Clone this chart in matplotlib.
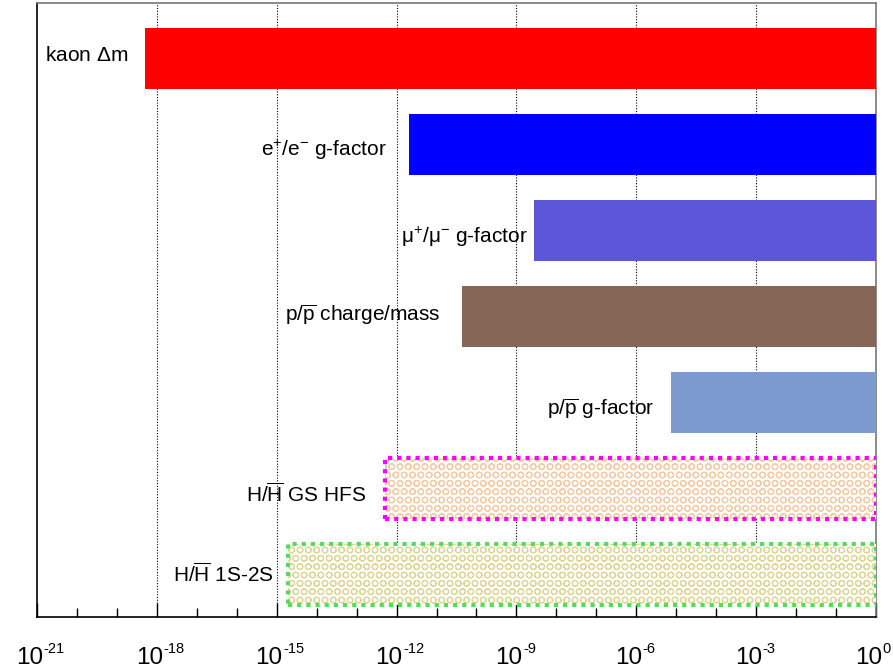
import numpy as np
import matplotlib
matplotlib.use('Agg')
import matplotlib.pyplot as plt
from matplotlib.ticker import FixedLocator, NullFormatter

plt.rcParams['font.family'] = ['Liberation Sans', 'DejaVu Sans']
plt.rcParams['mathtext.fontset'] = 'custom'
plt.rcParams['mathtext.rm'] = 'Liberation Sans'
plt.rcParams['mathtext.it'] = 'Liberation Sans:italic'
plt.rcParams['mathtext.bf'] = 'Liberation Sans:bold'
plt.rcParams['hatch.linewidth'] = 0.8

# data: lower bound of each measurement (bar runs up to 1)
labels = ['kaon $\\Delta$m',
          'e$^{+}$/e$^{-}$ g-factor',
          '\u03bc$^{+}$/\u03bc$^{-}$ g-factor',
          'p/$\\overline{\\mathrm{p}}$ charge/mass',
          'p/$\\overline{\\mathrm{p}}$ g-factor',
          'H/$\\overline{\\mathrm{H}}$ GS HFS',
          'H/$\\overline{\\mathrm{H}}$ 1S-2S']
lower = [5e-19, 2e-12, 2.7e-9, 4.4e-11, 7.4e-6, 5e-13, 1.9e-15]
upper = 1.0
exponents = list(range(-21, 1, 3))

# style
colors = ['#ff0000', '#0000ff', '#5c56d8', '#866656', '#7e9bd0', None, None]
hatch_col = [None] * 5 + ['#f2cba6', '#ddd696']
edge_col = [None] * 5 + ['#ff00ff', '#55dd55']
lab_off_px = [-17, -22, -6, -22, -17, -18, -14]
lab_dy_px = [3, -5, -6, 2, -6, -6, 0]

fig = plt.figure(figsize=(8.93, 6.71), dpi=100)
ax = fig.add_axes([37/893, 54/671, 839/893, 614/671])

n = len(labels)
ypos = np.arange(n)[::-1]
h = 0.71
for i in range(n):
    w = upper - lower[i]
    if colors[i] is not None:
        ax.barh(ypos[i], w, left=lower[i], height=h, color=colors[i],
                edgecolor='none', zorder=3)
    else:
        ax.barh(ypos[i], w, left=lower[i], height=h, color='white',
                edgecolor=hatch_col[i], hatch='OO', linewidth=0, zorder=3)
        ax.barh(ypos[i], w, left=lower[i], height=h, fill=False,
                edgecolor=edge_col[i], linestyle=(0, (1, 1.2)),
                linewidth=3, zorder=4)
    ax.annotate(labels[i], xy=(lower[i], ypos[i]),
                xytext=(lab_off_px[i] * 0.72, lab_dy_px[i] * 0.72),
                textcoords='offset points', ha='right', va='center',
                fontsize=15, zorder=5)

ax.set_xscale('log')
ax.set_xlim(1e-21, 1)
ax.set_ylim(-0.494, 6.645)

majors = [10.0**k for k in exponents]
minors = [10.0**k for k in range(-21, 1)]
ax.xaxis.set_major_locator(FixedLocator(majors))
ax.xaxis.set_minor_locator(FixedLocator(minors))
ax.xaxis.set_major_formatter(NullFormatter())
ax.xaxis.set_minor_formatter(NullFormatter())
ax.tick_params(axis='x', which='major', direction='in', length=10, width=1)
ax.tick_params(axis='x', which='minor', direction='in', length=6.5, width=1)
ax.set_yticks([])

# ROOT-style "10^k" labels: big base, small raised exponent
tr = ax.get_xaxis_transform()
for k in exponents:
    ax.annotate('10', xy=(10.0**k, 0), xycoords=tr,
                xytext=(6 * 0.72, -47 * 0.72), textcoords='offset points',
                ha='right', va='baseline', fontsize=17.5, annotation_clip=False)
    ax.annotate('%d' % k, xy=(10.0**k, 0), xycoords=tr,
                xytext=(6.5 * 0.72, -25 * 0.72), textcoords='offset points',
                ha='left', va='top', fontsize=10.5, annotation_clip=False)

for k in range(-18, 0, 3):
    ax.axvline(10.0**k, color='black', linestyle=(0, (1, 1.5)), linewidth=0.8,
               zorder=1)

for s in ['top', 'right']:
    ax.spines[s].set_color('#777777')
ax.spines['left'].set_color('black')
ax.spines['bottom'].set_color('black')
for s in ax.spines.values():
    s.set_linewidth(1.2)

fig.savefig('out.png', dpi=100)
